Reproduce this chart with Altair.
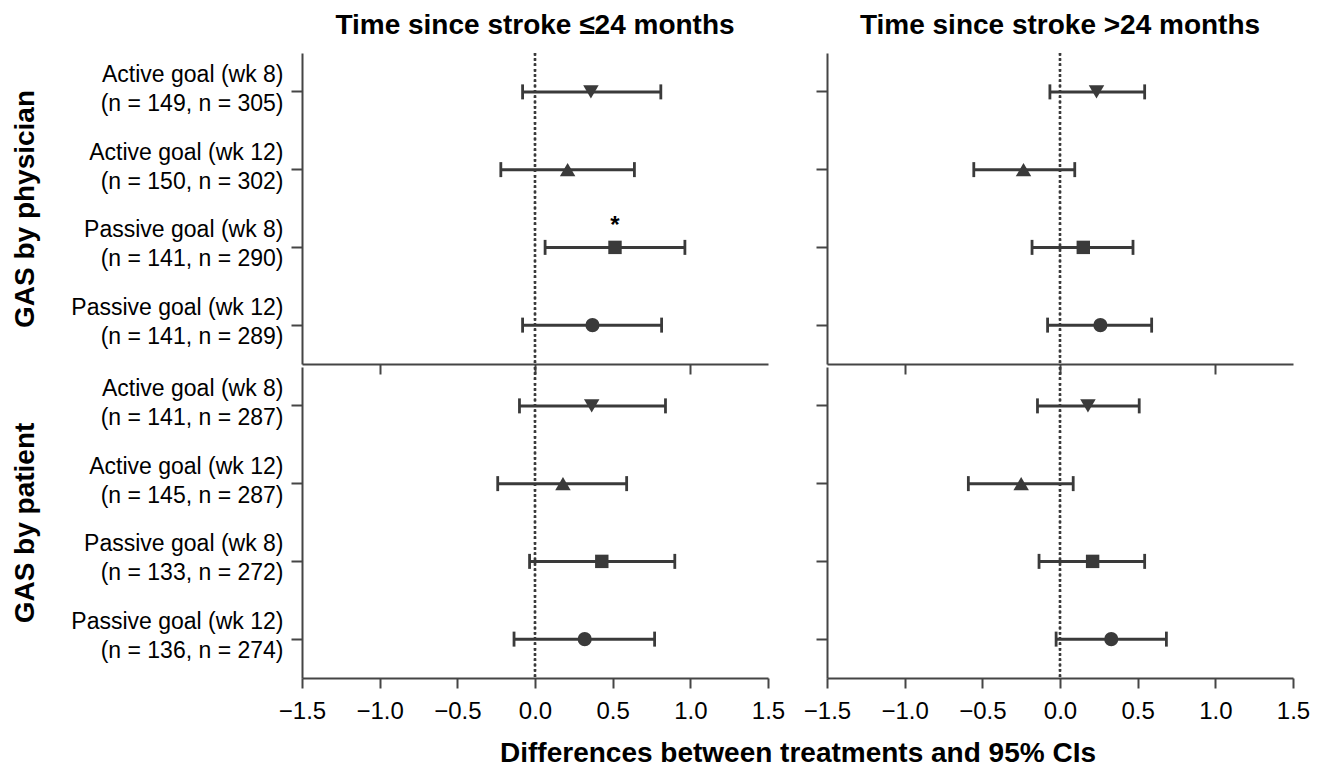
import altair as alt
import pandas as pd

# ---------------- data ----------------
goals = ["Active goal (wk 8)", "Active goal (wk 12)", "Passive goal (wk 8)", "Passive goal (wk 12)"]
shapes = ["triangle-down", "triangle-up", "square", "circle"]
shape_sizes = [240, 240, 180, 200]

phys_n = ["(n = 149, n = 305)", "(n = 150, n = 302)", "(n = 141, n = 290)", "(n = 141, n = 289)"]
pat_n = ["(n = 141, n = 287)", "(n = 145, n = 287)", "(n = 133, n = 272)", "(n = 136, n = 274)"]

# Time since stroke <=24 months, GAS by physician
e1_phys = [0.36, 0.21, 0.515, 0.37]
lo1_phys = [-0.08, -0.22, 0.065, -0.08]
hi1_phys = [0.81, 0.64, 0.965, 0.815]
# Time since stroke <=24 months, GAS by patient
e1_pat = [0.365, 0.18, 0.43, 0.32]
lo1_pat = [-0.10, -0.24, -0.035, -0.135]
hi1_pat = [0.84, 0.59, 0.90, 0.77]
# Time since stroke >24 months, GAS by physician
e2_phys = [0.235, -0.235, 0.15, 0.26]
lo2_phys = [-0.065, -0.555, -0.18, -0.08]
hi2_phys = [0.545, 0.095, 0.47, 0.59]
# Time since stroke >24 months, GAS by patient
e2_pat = [0.18, -0.25, 0.21, 0.33]
lo2_pat = [-0.145, -0.59, -0.135, -0.025]
hi2_pat = [0.51, 0.085, 0.545, 0.685]

# significance markers (one per row of each panel)
star1_phys = ["", "", "*", ""]
star_none = ["", "", "", ""]

col_titles = ["Time since stroke \u226424 months", "Time since stroke >24 months"]
row_titles = ["GAS by physician", "GAS by patient"]
x_title = "Differences between treatments and 95% CIs"
x_ticks = [-1.5, -1.0, -0.5, 0.0, 0.5, 1.0, 1.5]
top_ticks = [-1.0, 0.0, 1.0]

# ---------------- style ----------------
FONT = "Liberation Sans, Arial, Helvetica, sans-serif"
INK = "#3a3a3a"
AX = "#454545"
W, H = 466, 311
GAP = 59


def panel(est, lo, hi, nlab, stars, left, bottom, col_title=None, row_title=None,
          x_title_text=None):
    if left:
        labels = [g + "\n" + n for g, n in zip(goals, nlab)]
    else:
        labels = list(goals)
    df = pd.DataFrame({"label": labels, "est": est, "lo": lo, "hi": hi,
                       "shape": shapes, "msize": shape_sizes, "star": stars})

    xscale = alt.Scale(domain=[-1.5, 1.5], nice=False, zero=False)
    if bottom:
        xkw = dict(values=x_ticks, format=".1f", tickSize=10, labelPadding=11,
                   labelFontSize=24, labelFlush=False, labelColor="black")
        if x_title_text:
            xkw.update(title=x_title_text, titleFontSize=28, titleFontWeight="bold",
                       titleColor="black", titleX=(2 * W + GAP) / 2, titleAlign="center",
                       titlePadding=16)
        else:
            xkw.update(title=None)
        xaxis = alt.Axis(**xkw)
    else:
        xaxis = alt.Axis(values=top_ticks, labels=False, title=None, tickSize=10)

    yaxis_kw = dict(tickSize=11, labelPadding=8, labelFontSize=23,
                    labelLineHeight=29, labels=left, labelLimit=400)
    if left:
        yaxis_kw.update(labelExpr="split(datum.label, '\\n')", title=row_title,
                        titleFontSize=28, titleFontWeight="bold", titlePadding=63,
                        titleColor="black", labelOffset=-17)
    else:
        yaxis_kw.update(title=None)
    yenc = alt.Y("label:N", sort=labels,
                 scale=alt.Scale(type="band", paddingInner=0, paddingOuter=0),
                 axis=alt.Axis(**yaxis_kw))

    base = alt.Chart(df)
    zero = base.mark_rule(color=INK, strokeWidth=2.2, strokeDash=[2.5, 2.8]).encode(
        x=alt.datum(0, scale=xscale, axis=xaxis))
    bar = base.mark_rule(color=INK, strokeWidth=3).encode(
        x=alt.X("lo:Q", scale=xscale, axis=xaxis), x2="hi:Q", y=yenc)
    cap_lo = base.mark_tick(color=INK, thickness=2.8, size=15, opacity=1).encode(
        x="lo:Q", y=yenc)
    cap_hi = base.mark_tick(color=INK, thickness=2.8, size=15, opacity=1).encode(
        x="hi:Q", y=yenc)
    pts = base.mark_point(filled=True, color=INK, opacity=1).encode(
        x="est:Q", y=yenc, shape=alt.Shape("shape:N", scale=None),
        size=alt.Size("msize:Q", scale=None))
    star = base.mark_text(dy=-21, fontSize=24, fontWeight="bold", color="black",
                          font=FONT).encode(x="est:Q", y=yenc, text="star:N")

    ch = alt.layer(zero, bar, cap_lo, cap_hi, pts, star).properties(width=W, height=H)
    if col_title:
        ch = ch.properties(title=alt.TitleParams(col_title, fontSize=28, fontWeight="bold",
                                                 anchor="middle", frame="group", offset=12,
                                                 color="black"))
    return ch


tl = panel(e1_phys, lo1_phys, hi1_phys, phys_n, star1_phys, True, False,
           col_title=col_titles[0], row_title=row_titles[0])
tr = panel(e2_phys, lo2_phys, hi2_phys, phys_n, star_none, False, False,
           col_title=col_titles[1])
bl = panel(e1_pat, lo1_pat, hi1_pat, pat_n, star_none, True, True,
           row_title=row_titles[1], x_title_text=x_title)
br = panel(e2_pat, lo2_pat, hi2_pat, pat_n, star_none, False, True)

chart = alt.concat(tl, tr, bl, br, columns=2, spacing={"row": 3, "column": GAP},
                   bounds="flush").properties(
    padding={"left": 3, "top": 3, "right": 5, "bottom": 0},
).configure_view(stroke=None).configure_axis(
    domainColor=AX, tickColor=AX, domainWidth=2, tickWidth=2, grid=False,
    labelColor="black", labelFont=FONT, titleFont=FONT, labelFontSize=23,
).configure_title(font=FONT).configure_text(font=FONT)

chart.save("out.html", embed_options={"renderer": "svg", "actions": False})
